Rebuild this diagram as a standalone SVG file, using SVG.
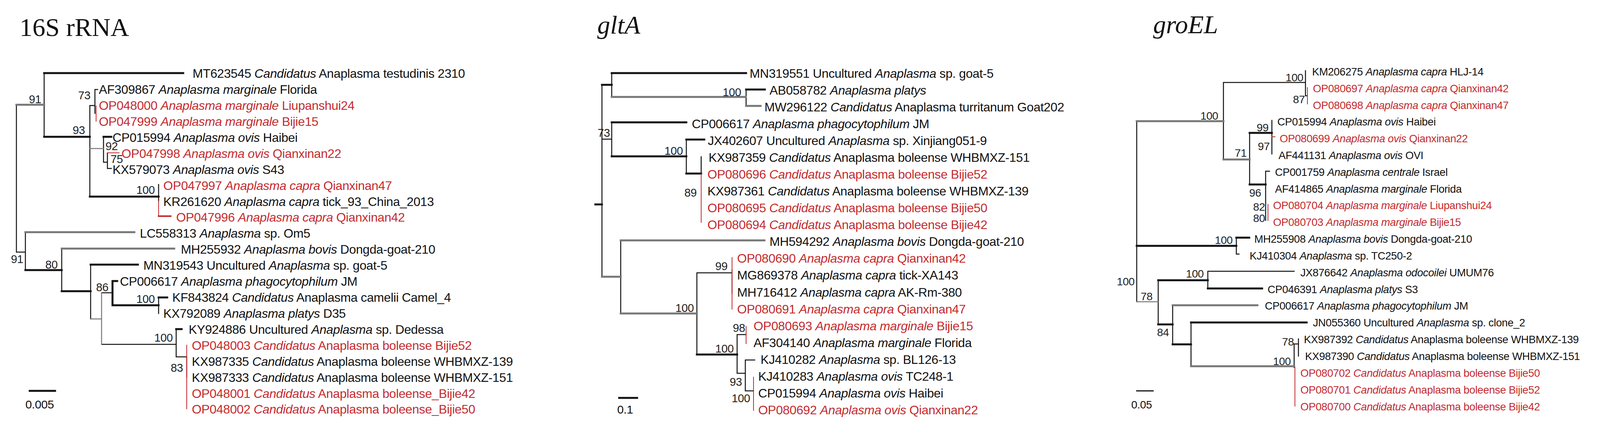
<svg xmlns="http://www.w3.org/2000/svg" width="4295" height="1095" viewBox="0 0 4295 1095">
<style>
text{font-family:"Liberation Sans",Arial,sans-serif;font-size:32px;letter-spacing:-0.4px;fill:#111}
#treeGroEL text{font-size:27.5px}
#treeGroEL text.n,#treeGroEL text.s{font-size:28px}
.t{font-family:"Liberation Serif","Times New Roman",serif;font-size:66px;letter-spacing:0}
.ti{font-family:"Liberation Serif","Times New Roman",serif;font-size:66px;font-style:italic;letter-spacing:0}
.n{font-size:29px;fill:#222}
.s{font-size:30px}
.red{fill:#c42b2e}
tspan.i{font-style:italic}
path{fill:none;stroke-linecap:square}
.b{stroke:#111;stroke-width:2.5}
.k{stroke:#111;stroke-width:5}
.g{stroke:#777;stroke-width:5}
.gt{stroke:#777;stroke-width:2.5}
.r{stroke:#c42b2e;stroke-width:2}
</style>
<rect width="4295" height="1095" fill="#fff"/>
<g id="titles">
<text class="t" x="50" y="92">16S rRNA</text>
<text class="ti" x="1529" y="86">gltA</text>
<text class="ti" x="2952" y="85">groEL</text>
</g>
<g id="connectors">
<path class="b" d="M42 268V645M113 187V350M230 270V503M230 270H243M243 229V290M243 229H250M265 350V415M265 415H275M275 391V431M275 431H285M406 472V514M42 645H65M65 594V691M158 636V745M232 677V816M260 749H288M406 761V802M260 881H451M451 842V913M451 913H478M478 913V965"/>
<path class="k" d="M113 187H469M113 350H230M265 350H285M230 503H406M65 691H158M158 745H232M232 677H353M288 719V781M288 719H300M288 781H406M406 761H428M451 842H465M76 1000H141"/>
<path class="g" d="M42 268H113M65 594H344M158 636H446"/>
<path class="gt" d="M230 380H265M232 816H260M260 749V881"/>
<path class="r" d="M246 271V310M275 391H305M406 514V553M478 883V1046"/>
<path class="r" style="stroke-width:4" d="M406 553H437"/>

<path class="b" d="M1541 217V708M1566 187V248M1910 229V271M1541 356H1566M1566 313V400M1757 357V444M1795 401V444M1589 615V802M1784 698V907M1784 698H1874M1874 690V750M1887 856V955M1887 856H1910M1887 955H1908M1908 921V1000M1908 921H1932M1908 1000H1929"/>
<path class="k" d="M1524 523H1541M1541 217H1566M1566 187H1910M1910 229H1958M1566 313H1757M1566 400H1757M1757 357H1803M1757 444H1795M1784 907H1887M1585 1018H1631"/>
<path class="g" d="M1566 248H1909M1910 271H1947M1541 708H1589M1589 615H1957M1589 802H1784"/>
<path class="r" d="M1795 444V569M1874 659V791M1910 835V879M1929 965V1050"/>

<path class="b" d="M2910 310V772M3132 211V408M3132 211H3342M3342 181V245M3342 245H3347M3199 340V472M3256 308V394M3240 438V564M3240 438H3250M3165 608V650M3165 650H3172M2965 717V830M3092 694V738M3092 694H3313M3002 781V881M3049 825V937M3313 880V940M3313 880H3324M3324 867V911"/>
<path class="k" d="M3199 340H3256M3199 472H3240M2910 629H3165M3165 608H3198M2965 717H3092M3092 738H3231M2965 830H3002M3002 881H3049M3049 825H3345"/>
<path class="g" d="M2910 310H3132M3132 408H3199M3002 781H3219M3049 937H3313"/>
<path class="gt" d="M2910 772H2965"/>
<path class="r" d="M3347 224V266M3256 350H3264M3246 523V564M3315 940V1039"/>
<path class="b" style="stroke-width:3" d="M2910 1000H2952"/>
</g>
<g id="tree16S">
<text x="493" y="199">MT623545 <tspan class="i">Candidatus</tspan> Anaplasma testudinis 2310</text>
<text x="253" y="240">AF309867 <tspan class="i">Anaplasma marginale</tspan> Florida</text>
<text class="red" x="253" y="281">OP048000 <tspan class="i">Anaplasma marginale</tspan> Liupanshui24</text>
<text class="red" x="253" y="322">OP047999 <tspan class="i">Anaplasma marginale</tspan> Bijie15</text>
<text x="288" y="363">CP015994 <tspan class="i">Anaplasma ovis</tspan> Haibei</text>
<text class="red" x="311" y="404">OP047998 <tspan class="i">Anaplasma ovis</tspan> Qianxinan22</text>
<text x="288" y="445">KX579073 <tspan class="i">Anaplasma ovis</tspan> S43</text>
<text class="red" x="418" y="486">OP047997 <tspan class="i">Anaplasma capra</tspan> Qianxinan47</text>
<text x="418" y="527">KR261620 <tspan class="i">Anaplasma capra</tspan> tick_93_China_2013</text>
<text class="red" x="451" y="567">OP047996 <tspan class="i">Anaplasma capra</tspan> Qianxinan42</text>
<text x="358" y="608">LC558313 <tspan class="i">Anaplasma</tspan> sp. Om5</text>
<text x="463" y="649">MH255932 <tspan class="i">Anaplasma bovis</tspan> Dongda-goat-210</text>
<text x="367" y="690">MN319543 Uncultured <tspan class="i">Anaplasma</tspan> sp. goat-5</text>
<text x="307" y="731">CP006617 <tspan class="i">Anaplasma phagocytophilum</tspan> JM</text>
<text x="441" y="772">KF843824 <tspan class="i">Candidatus</tspan> Anaplasma camelii Camel_4</text>
<text x="418" y="813">KX792089 <tspan class="i">Anaplasma platys</tspan> D35</text>
<text x="483" y="854">KY924886 Uncultured <tspan class="i">Anaplasma</tspan>  sp. Dedessa</text>
<text class="red" x="491" y="895">OP048003 <tspan class="i">Candidatus</tspan> Anaplasma boleense Bijie52</text>
<text x="491" y="936">KX987335 <tspan class="i">Candidatus</tspan> Anaplasma boleense WHBMXZ-139</text>
<text x="491" y="977">KX987333 <tspan class="i">Candidatus</tspan> Anaplasma boleense WHBMXZ-151</text>
<text class="red" x="491" y="1018">OP048001 <tspan class="i">Candidatus</tspan> Anaplasma boleense_Bijie42</text>
<text class="red" x="491" y="1058">OP048002 <tspan class="i">Candidatus</tspan> Anaplasma boleense_Bijie50</text>
<text class="n" x="74" y="264">91</text><text class="n" x="200" y="254">73</text><text class="n" x="186" y="343">93</text>
<text class="n" x="270" y="384">92</text><text class="n" x="283" y="417">75</text><text class="n" x="349" y="496">100</text>
<text class="n" x="28" y="673">91</text><text class="n" x="116" y="687">80</text><text class="n" x="246" y="745">86</text>
<text class="n" x="349" y="775">100</text><text class="n" x="395" y="874">100</text><text class="n" x="437" y="951">83</text>
<text class="s" x="65" y="1045">0.005</text>
</g>
<g id="treeGltA">
<text x="1919" y="199">MN319551 Uncultured <tspan class="i">Anaplasma</tspan> sp. goat-5</text>
<text x="1970" y="242">AB058782 <tspan class="i">Anaplasma platys</tspan></text>
<text x="1957" y="285">MW296122 <tspan class="i">Candidatus</tspan> Anaplasma turritanum Goat202</text>
<text x="1771" y="328">CP006617 <tspan class="i">Anaplasma phagocytophilum</tspan> JM</text>
<text x="1812" y="371">JX402607 Uncultured <tspan class="i">Anaplasma</tspan> sp. Xinjiang051-9</text>
<text x="1814" y="414">KX987359 <tspan class="i">Candidatus</tspan> Anaplasma boleense WHBMXZ-151</text>
<text class="red" x="1811" y="457">OP080696 <tspan class="i">Candidatus</tspan> Anaplasma boleense Bijie52</text>
<text x="1811" y="500">KX987361 <tspan class="i">Candidatus</tspan> Anaplasma boleense WHBMXZ-139</text>
<text class="red" x="1811" y="543">OP080695 <tspan class="i">Candidatus</tspan> Anaplasma boleense Bijie50</text>
<text class="red" x="1811" y="586">OP080694 <tspan class="i">Candidatus</tspan> Anaplasma boleense Bijie42</text>
<text x="1970" y="629">MH594292 <tspan class="i">Anaplasma bovis</tspan> Dongda-goat-210</text>
<text class="red" x="1887" y="672">OP080690 <tspan class="i">Anaplasma capra</tspan> Qianxinan42</text>
<text x="1887" y="715">MG869378 <tspan class="i">Anaplasma capra</tspan> tick-XA143</text>
<text x="1887" y="759">MH716412 <tspan class="i">Anaplasma capra</tspan> AK-Rm-380</text>
<text class="red" x="1887" y="802">OP080691 <tspan class="i">Anaplasma capra</tspan> Qianxinan47</text>
<text class="red" x="1929" y="845">OP080693 <tspan class="i">Anaplasma marginale</tspan> Bijie15</text>
<text x="1929" y="888">AF304140 <tspan class="i">Anaplasma marginale</tspan> Florida</text>
<text x="1947" y="931">KJ410282 <tspan class="i">Anaplasma</tspan> sp. BL126-13</text>
<text x="1941" y="974">KJ410283 <tspan class="i">Anaplasma ovis</tspan> TC248-1</text>
<text x="1941" y="1017">CP015994 <tspan class="i">Anaplasma ovis</tspan> Haibei</text>
<text class="red" x="1941" y="1060">OP080692 <tspan class="i">Anaplasma ovis</tspan> Qianxinan22</text>
<text class="n" x="1850" y="246">100</text><text class="n" x="1530" y="350">73</text><text class="n" x="1701" y="396">100</text>
<text class="n" x="1752" y="503">89</text><text class="n" x="1729" y="798">100</text><text class="n" x="1831" y="691">99</text>
<text class="n" x="1831" y="902">100</text><text class="n" x="1876" y="849">98</text><text class="n" x="1868" y="987">93</text>
<text class="n" x="1873" y="1029">100</text>
<text class="s" x="1580" y="1058">0.1</text>
</g>
<g id="treeGroEL">
<text x="3359" y="193">KM206275 <tspan class="i">Anaplasma capra</tspan> HLJ-14</text>
<text class="red" x="3361" y="236">OP080697 <tspan class="i">Anaplasma capra</tspan> Qianxinan42</text>
<text class="red" x="3361" y="279">OP080698 <tspan class="i">Anaplasma capra</tspan> Qianxinan47</text>
<text x="3270" y="321">CP015994 <tspan class="i">Anaplasma ovis</tspan> Haibei</text>
<text class="red" x="3276" y="364">OP080699 <tspan class="i">Anaplasma ovis</tspan> Qianxinan22</text>
<text x="3273" y="407">AF441131 <tspan class="i">Anaplasma ovis</tspan> OVI</text>
<text x="3264" y="450">CP001759 <tspan class="i">Anaplasma centrale</tspan> Israel</text>
<text x="3264" y="493">AF414865 <tspan class="i">Anaplasma marginale</tspan> Florida</text>
<text class="red" x="3259" y="535">OP080704 <tspan class="i">Anaplasma marginale</tspan> Liupanshui24</text>
<text class="red" x="3259" y="578">OP080703 <tspan class="i">Anaplasma marginale</tspan> Bijie15</text>
<text x="3211" y="621">MH255908 <tspan class="i">Anaplasma bovis</tspan> Dongda-goat-210</text>
<text x="3199" y="664">KJ410304 <tspan class="i">Anaplasma</tspan> sp. TC250-2</text>
<text x="3329" y="707">JX876642 <tspan class="i">Anaplasma odocoilei</tspan> UMUM76</text>
<text x="3245" y="750">CP046391 <tspan class="i">Anaplasma platys</tspan> S3</text>
<text x="3238" y="792">CP006617 <tspan class="i">Anaplasma phagocytophilum</tspan> JM</text>
<text x="3361" y="835">JN055360 Uncultured <tspan class="i">Anaplasma</tspan> sp. clone_2</text>
<text x="3338" y="878">KX987392 <tspan class="i">Candidatus</tspan> Anaplasma boleense WHBMXZ-139</text>
<text x="3341" y="921">KX987390 <tspan class="i">Candidatus</tspan> Anaplasma boleense WHBMXZ-151</text>
<text class="red" x="3329" y="964">OP080702 <tspan class="i">Candidatus</tspan> Anaplasma boleense Bijie50</text>
<text class="red" x="3329" y="1007">OP080701 <tspan class="i">Candidatus</tspan> Anaplasma boleense Bijie52</text>
<text class="red" x="3329" y="1050">OP080700 <tspan class="i">Candidatus</tspan> Anaplasma boleense Bijie42</text>
<text class="n" x="3073" y="306">100</text><text class="n" x="3291" y="208">100</text><text class="n" x="3310" y="264">87</text>
<text class="n" x="3161" y="401">71</text><text class="n" x="3217" y="336">99</text><text class="n" x="3220" y="384">97</text>
<text class="n" x="3198" y="503">96</text><text class="n" x="3208" y="539">82</text><text class="n" x="3208" y="568">80</text>
<text class="n" x="3110" y="624">100</text><text class="n" x="2859" y="730">100</text><text class="n" x="2920" y="768">78</text>
<text class="n" x="3036" y="710">100</text><text class="n" x="2962" y="860">84</text><text class="n" x="3259" y="934">100</text>
<text class="n" x="3282" y="884">78</text>
<text class="s" x="2896" y="1045">0.05</text>
</g>
</svg>
